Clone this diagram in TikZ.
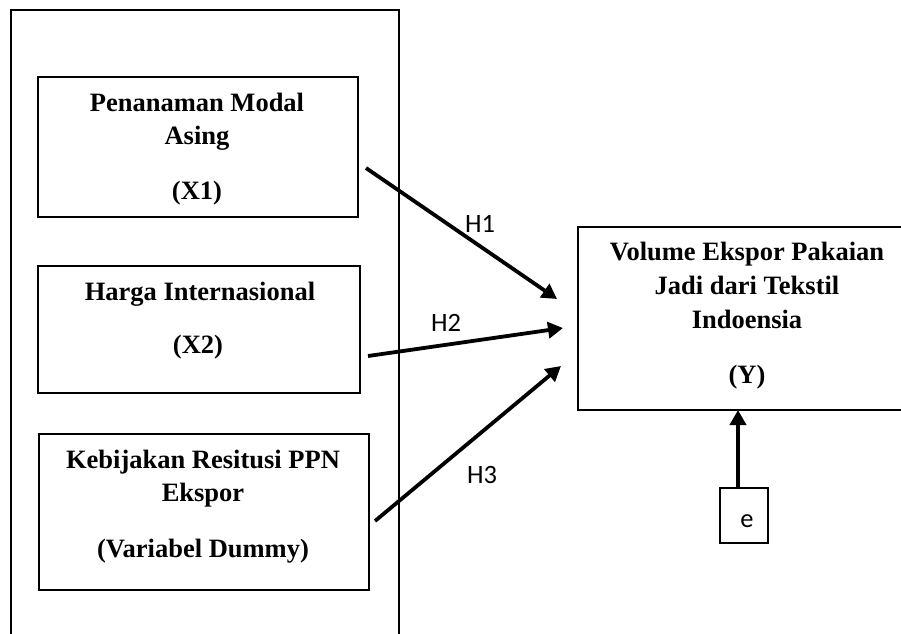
\documentclass[tikz,border=0pt]{standalone}
\usepackage{fontspec}
\setmainfont{Liberation Serif}
\newfontfamily\hsans{Carlito}
\usetikzlibrary{arrows.meta}
\begin{document}
\begin{tikzpicture}[x=1pt,y=-1pt,
  box/.style={draw, line width=1.6pt, inner sep=0pt, anchor=north west},
  lbl/.style={font=\fontsize{26.5}{32}\selectfont\bfseries, anchor=base, inner sep=0pt},
  hlbl/.style={font=\hsans\fontsize{26.5}{32}\selectfont, anchor=base, inner sep=0pt},
  arr/.style={line width=3.8pt, -{Triangle[length=15pt,width=16pt]}}]
\useasboundingbox (0,0) rectangle (901,633);
\clip (0,0) rectangle (901,633);
% outer frame (open at the bottom)
\draw[line width=1.6pt] (11,660) -- (11,10) -- (399,10) -- (399,660);
% boxes
\node[box, minimum width=320pt, minimum height=140pt] (x1) at (37,76) {};
\node[box, minimum width=322pt, minimum height=127pt] (x2) at (37,265) {};
\node[box, minimum width=330pt, minimum height=156pt] (x3) at (38,433) {};
\node[box, minimum width=340pt, minimum height=183pt] (y) at (577,226) {};
\node[box, minimum width=48pt, minimum height=55pt] (e) at (719,487) {};
% texts
\node[lbl] (t11) at (197,111) {Penanaman Modal};
\node[lbl] (t12) at (197,144) {Asing};
\node[lbl] (t13) at (197,199) {(X1)};
\node[lbl] (t21) at (200,300) {Harga Internasional};
\node[lbl] (t22) at (198,353) {(X2)};
\node[lbl] (t31) at (203,468) {Kebijakan Resitusi PPN};
\node[lbl] (t32) at (203,501) {Ekspor};
\node[lbl] (t33) at (203,557) {(Variabel Dummy)};
\node[lbl] (ty1) at (747,260) {Volume Ekspor Pakaian};
\node[lbl] (ty2) at (747,294) {Jadi dari Tekstil};
\node[lbl] (ty3) at (747,328) {Indoensia};
\node[lbl] (ty4) at (747,383) {(Y)};
\node[hlbl] (te) at (747,527) {e};
\node[hlbl] (h1) at (480,232) {H1};
\node[hlbl] (h2) at (446,331) {H2};
\node[hlbl] (h3) at (482,483) {H3};
% connector ends
\coordinate (a1s) at (366,168);
\coordinate (a1e) at (557,299);
\coordinate (a2s) at (368,356);
\coordinate (a2e) at (563,328);
\coordinate (a3s) at (375,521);
\coordinate (a3e) at (561,366);
\coordinate (aes) at (738,487);
\coordinate (aee) at (738,410);
\draw[arr] (a1s) -- (a1e);
\draw[arr] (a2s) -- (a2e);
\draw[arr] (a3s) -- (a3e);
\draw[arr] (aes) -- (aee);
\end{tikzpicture}
\end{document}
